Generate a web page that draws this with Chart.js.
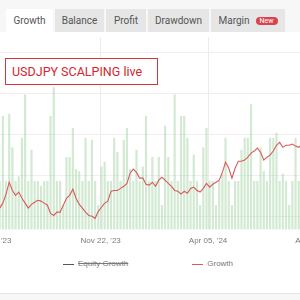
<!DOCTYPE html>
<html lang="en">
<head>
    <meta charset="UTF-8">
    <title>USDJPY SCALPING live - Growth</title>

    <!-- Chart.js -->
    <script src="https://cdn.jsdelivr.net/npm/chart.js"></script>

    <style>
        html, body {
            margin: 0;
            padding: 0;
            width: 300px;
            height: 300px;
            overflow: hidden;
            background: #fff;
            font-family: Roboto, Arial, sans-serif;
        }
        .topbar {
            position: absolute;
            left: 0; top: 0;
            width: 300px; height: 32px;
            background: #f7f7f7;
        }
        .tab {
            position: absolute;
            top: 9px;
            height: 23px;
            line-height: 23px;
            background: #e6e6e6;
            color: #555;
            font-size: 10px;
            text-align: center;
        }
        .tab.active { background: #fff; }
        .badge {
            display: inline-block;
            margin-left: 6px;
            padding: 0 4px;
            height: 8px;
            line-height: 8px;
            border-radius: 4px;
            background: #d9434e;
            color: #fff;
            font-size: 7px;
            vertical-align: 1px;
        }
        #chartWrap {
            position: absolute;
            left: -60px;
            top: 37px;
            width: 420px;
            height: 216px;
        }
        .title-box {
            position: absolute;
            left: 5px; top: 58px;
            width: 145px; height: 25px;
            border: 1px solid #d8363c;
            background: #fff;
            color: #d3262e;
            font-family: Roboto, Arial, sans-serif;
            font-size: 12.5px;
            line-height: 25px;
            padding-left: 6px;
            box-sizing: content-box;
        }
        #legend {
            position: absolute;
            left: 63px; top: 258px;
            display: flex;
            gap: 64px;
            font-family: Arial, "Liberation Sans", sans-serif;
            font-size: 8px;
            line-height: 12px;
            color: #7a7a7a;
        }
        .legend-item { display: flex; align-items: center; }
        .swatch { width: 11px; height: 1px; margin-right: 4px; }
        .legend-item.off .text { text-decoration: line-through; }
        .footer {
            position: absolute;
            left: 0; top: 293px;
            width: 300px; height: 7px;
            background: #f7f7f7;
            border-top: 1px solid #e6e6e6;
        }
    </style>
</head>
<body>
    <div class="topbar"></div>
    <div class="tab active" style="left:6px;width:47px;">Growth</div>
    <div class="tab" style="left:55px;width:49px;">Balance</div>
    <div class="tab" style="left:106px;width:40px;">Profit</div>
    <div class="tab" style="left:148px;width:61px;">Drawdown</div>
    <div class="tab" style="left:211px;width:74px;">Margin<span class="badge">New</span></div>

    <div id="chartWrap">
        <canvas id="growthChart" width="420" height="216"></canvas>
    </div>

    <div class="title-box">USDJPY SCALPING live</div>
    <div id="legend"></div>
    <div class="footer"></div>

    <script>
        // x axis: days since Jul 10 '23
        const tickDays = [0, 135, 270, 405];
        const tickLabels = ["Jul 10, '23", "Nov 22, '23", "Apr 05, '24", "Aug 18, '24"];

        // one entry every 4 days, starting 4 days before the first tick
        const firstDay = -4;
        const dayStep = 4;

        // green bars (daily activity)
        const tradeVolume = [
            2, 2, 3, 2, 4.7, 2, 4.8, 3.4, 2, 2.2,
            3.8, 5.6, 2, 3.3, 2, 2, 1.8, 2, 2, 4.7,
            5.9, 2, 2, 1, 3, 3, 4.2, 2.5, 2.4, 2,
            3.8, 2, 3.7, 2, 1, 2.6, 2.8, 2, 2, 3.8,
            3.2, 2, 3.7, 4.2, 2.5, 2, 3.3, 2, 2.6, 4.7,
            2, 3, 2, 3, 1, 4.3, 3, 2, 5.6, 2,
            4.7, 4.7, 3.8, 2, 3.1, 2, 1, 3.4, 4.2, 2,
            2, 1, 2, 2.3, 3.8, 2, 1, 2, 2, 3.3,
            3.8, 3.8, 5.2, 2, 2, 3.4, 2.4, 2, 3.8, 3.8,
            4, 2, 2.3, 2, 1, 2, 3.8, 2, 2, 2
        ];

        // red line (growth %)
        const growthPct = [
            1.5, 2.4, 1.0, 2.0, 3.2, 5.4, 8.3, 6.3, 5.1, 5.9,
            4.4, 3.2, 2.0, 2.9, 3.4, 3.9, 3.7, 3.2, 2.7, 0.7,
            0.2, 1.0, 1.0, 2.7, 4.4, 5.1, 6.6, 4.4, 2.9, 2.0,
            1.0, 0.2, 0.0, -0.5, 1.2, 2.2, 3.2, 3.7, 6.1, 6.3,
            6.3, 6.8, 7.3, 8.0, 10.5, 11.5, 10.7, 9.3, 9.3, 7.8,
            7.6, 8.3, 7.3, 8.8, 9.5, 8.8, 8.0, 7.3, 6.3, 6.1,
            5.4, 6.1, 5.6, 6.8, 7.1, 6.3, 5.9, 6.8, 8.0, 7.1,
            7.8, 8.3, 8.8, 10.7, 13.2, 11.7, 9.3, 11.7, 13.4, 13.4,
            13.7, 14.4, 15.4, 15.9, 16.6, 15.6, 13.7, 14.4, 14.9, 15.9,
            17.3, 18.0, 16.8, 17.3, 17.3, 17.6, 17.1, 16.8, 17.6, 17.3
        ];

        // equity growth is switched off in the legend
        const equityGrowthPct = [];

        const days = growthPct.map((_, i) => firstDay + i * dayStep);

        // legend drawn as html so the item spacing can match
        const htmlLegend = {
            id: 'htmlLegend',
            afterUpdate(chart) {
                const box = document.getElementById('legend');
                box.innerHTML = '';
                const items = chart.options.plugins.legend.labels.generateLabels(chart)
                    .filter(item => chart.data.datasets[item.datasetIndex].type !== 'bar');
                items.forEach(item => {
                    const el = document.createElement('div');
                    el.className = 'legend-item' + (item.hidden ? ' off' : '');
                    el.innerHTML = `<span class="swatch" style="background:${item.strokeStyle}"></span><span class="text">${item.text}</span>`;
                    box.appendChild(el);
                });
            }
        };

        const ctx = document.getElementById('growthChart').getContext('2d');
        new Chart(ctx, {
            type: 'line',
            data: {
                datasets: [
                    {
                        label: 'Equity Growth',
                        data: equityGrowthPct,
                        borderColor: '#555555',
                        hidden: true,
                        yAxisID: 'yGrowth'
                    },
                    {
                        label: 'Growth',
                        data: days.map((d, i) => ({ x: d, y: growthPct[i] })),
                        borderColor: '#d65c5c',
                        borderWidth: 1.1,
                        pointRadius: 0,
                        tension: 0,
                        fill: false,
                        yAxisID: 'yGrowth'
                    },
                    {
                        type: 'bar',
                        label: 'Trades',
                        data: days.map((d, i) => ({ x: d, y: tradeVolume[i] })),
                        backgroundColor: 'rgba(165, 212, 165, 0.5)',
                        barThickness: 1.5,
                        yAxisID: 'yTrades'
                    }
                ]
            },
            options: {
                responsive: false,
                animation: false,
                layout: { autoPadding: false, padding: 0 },
                plugins: {
                    legend: { display: false },
                    tooltip: { enabled: false }
                },
                scales: {
                    x: {
                        type: 'linear',
                        offset: false,
                        min: -67,
                        max: 461,
                        afterBuildTicks: scale => {
                            scale.ticks = tickDays.map(v => ({ value: v }));
                        },
                        ticks: {
                            autoSkip: false,
                            maxRotation: 0,
                            padding: 7,
                            color: '#7a7a7a',
                            font: { family: 'Arial', size: 8 },
                            callback: value => tickLabels[tickDays.indexOf(value)] || ''
                        },
                        grid: { color: '#efeaee', drawTicks: false, offset: false },
                        border: { display: false }
                    },
                    yGrowth: {
                        position: 'right',
                        min: -3.2,
                        max: 43.7,
                        ticks: { display: false, stepSize: 10, includeBounds: false },
                        grid: { color: '#f1edf0', drawTicks: false },
                        border: { display: false }
                    },
                    yTrades: {
                        position: 'left',
                        display: false,
                        min: 0,
                        max: 8
                    }
                }
            },
            plugins: [htmlLegend]
        });
    </script>
</body>
</html>
